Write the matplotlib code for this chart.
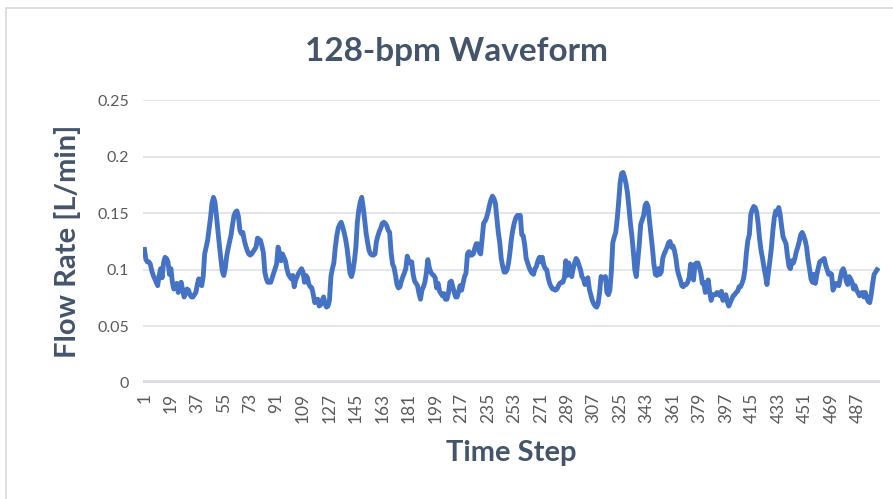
import matplotlib
matplotlib.use('Agg')
import matplotlib.pyplot as plt
import numpy as np
from matplotlib.patches import Rectangle

plotname = 'out'

# ------------- Data ------------- #
flow_rate = [
    0.118, 0.109, 0.107, 0.107, 0.105, 0.099, 0.095, 0.092, 0.089, 0.086,
    0.095, 0.101, 0.093, 0.106, 0.111, 0.110, 0.107, 0.096, 0.101, 0.089,
    0.083, 0.085, 0.088, 0.080, 0.084, 0.089, 0.082, 0.076, 0.079, 0.083,
    0.082, 0.078, 0.076, 0.076, 0.078, 0.080, 0.087, 0.092, 0.089, 0.086,
    0.094, 0.114, 0.120, 0.126, 0.136, 0.146, 0.159, 0.164, 0.160, 0.148,
    0.135, 0.122, 0.110, 0.099, 0.095, 0.101, 0.112, 0.119, 0.125, 0.131,
    0.140, 0.148, 0.151, 0.152, 0.147, 0.135, 0.132, 0.133, 0.126, 0.121,
    0.117, 0.114, 0.113, 0.114, 0.116, 0.118, 0.120, 0.128, 0.127, 0.126,
    0.121, 0.115, 0.098, 0.092, 0.089, 0.089, 0.089, 0.093, 0.097, 0.101,
    0.105, 0.120, 0.115, 0.108, 0.114, 0.111, 0.108, 0.101, 0.096, 0.094,
    0.092, 0.095, 0.085, 0.091, 0.094, 0.097, 0.099, 0.101, 0.098, 0.089,
    0.095, 0.093, 0.087, 0.085, 0.084, 0.078, 0.071, 0.073, 0.074, 0.068,
    0.069, 0.073, 0.076, 0.070, 0.067, 0.068, 0.073, 0.094, 0.101, 0.106,
    0.120, 0.130, 0.137, 0.140, 0.142, 0.138, 0.133, 0.127, 0.119, 0.108,
    0.097, 0.094, 0.099, 0.108, 0.120, 0.142, 0.153, 0.160, 0.164, 0.155,
    0.144, 0.132, 0.124, 0.117, 0.114, 0.113, 0.113, 0.114, 0.125, 0.130,
    0.134, 0.137, 0.141, 0.142, 0.141, 0.139, 0.135, 0.133, 0.115, 0.105,
    0.102, 0.095, 0.087, 0.084, 0.085, 0.090, 0.094, 0.097, 0.101, 0.112,
    0.108, 0.106, 0.107, 0.096, 0.090, 0.088, 0.086, 0.079, 0.074, 0.082,
    0.085, 0.089, 0.097, 0.109, 0.102, 0.098, 0.096, 0.095, 0.093, 0.084,
    0.088, 0.081, 0.079, 0.077, 0.079, 0.074, 0.074, 0.079, 0.089, 0.090,
    0.085, 0.080, 0.076, 0.076, 0.081, 0.086, 0.082, 0.088, 0.094, 0.097,
    0.114, 0.116, 0.113, 0.113, 0.114, 0.119, 0.123, 0.123, 0.116, 0.114,
    0.128, 0.141, 0.143, 0.146, 0.151, 0.157, 0.162, 0.165, 0.163, 0.159,
    0.146, 0.133, 0.124, 0.110, 0.103, 0.098, 0.098, 0.100, 0.106, 0.116,
    0.128, 0.136, 0.142, 0.146, 0.148, 0.148, 0.148, 0.131, 0.130, 0.122,
    0.110, 0.106, 0.102, 0.099, 0.097, 0.096, 0.101, 0.103, 0.108, 0.111,
    0.107, 0.111, 0.104, 0.101, 0.100, 0.093, 0.088, 0.085, 0.083, 0.083,
    0.082, 0.083, 0.086, 0.088, 0.089, 0.089, 0.093, 0.108, 0.095, 0.106,
    0.100, 0.094, 0.101, 0.106, 0.110, 0.108, 0.104, 0.100, 0.094, 0.092,
    0.087, 0.091, 0.093, 0.083, 0.078, 0.073, 0.070, 0.068, 0.067, 0.070,
    0.080, 0.094, 0.093, 0.093, 0.094, 0.080, 0.078, 0.082, 0.098, 0.124,
    0.129, 0.133, 0.145, 0.160, 0.177, 0.185, 0.186, 0.182, 0.176, 0.168,
    0.155, 0.141, 0.130, 0.116, 0.100, 0.094, 0.108, 0.122, 0.140, 0.144,
    0.148, 0.157, 0.159, 0.156, 0.143, 0.131, 0.119, 0.105, 0.096, 0.095,
    0.101, 0.096, 0.098, 0.110, 0.114, 0.117, 0.120, 0.124, 0.125, 0.120,
    0.121, 0.117, 0.110, 0.100, 0.095, 0.091, 0.086, 0.085, 0.087, 0.087,
    0.089, 0.093, 0.105, 0.098, 0.091, 0.105, 0.106, 0.106, 0.102, 0.097,
    0.088, 0.089, 0.080, 0.085, 0.091, 0.080, 0.073, 0.078, 0.078, 0.078,
    0.080, 0.079, 0.077, 0.081, 0.073, 0.076, 0.078, 0.072, 0.068, 0.071,
    0.074, 0.077, 0.078, 0.080, 0.081, 0.085, 0.085, 0.088, 0.092, 0.100,
    0.115, 0.126, 0.131, 0.149, 0.153, 0.156, 0.155, 0.151, 0.141, 0.127,
    0.117, 0.110, 0.102, 0.095, 0.087, 0.098, 0.108, 0.119, 0.134, 0.146,
    0.152, 0.149, 0.155, 0.149, 0.138, 0.129, 0.126, 0.123, 0.112, 0.103,
    0.101, 0.108, 0.106, 0.110, 0.116, 0.120, 0.125, 0.131, 0.133, 0.130,
    0.126, 0.120, 0.109, 0.101, 0.092, 0.089, 0.096, 0.088, 0.096, 0.102,
    0.107, 0.108, 0.109, 0.110, 0.104, 0.100, 0.096, 0.097, 0.096, 0.082,
    0.085, 0.088, 0.087, 0.086, 0.093, 0.099, 0.101, 0.097, 0.090, 0.087,
    0.094, 0.092, 0.089, 0.083, 0.086, 0.082, 0.080, 0.077, 0.079, 0.080,
    0.076, 0.080, 0.075, 0.072, 0.071, 0.078, 0.088, 0.096, 0.098, 0.100,
]
time_step = np.arange(1, len(flow_rate) + 1)
x_ticks = np.arange(1, len(flow_rate), 18)
y_ticks = [0, 0.05, 0.1, 0.15, 0.2, 0.25]
y_tick_labels = ['0', '0.05', '0.1', '0.15', '0.2', '0.25']

# ------------- Plot Setup ------------- #
plt.rcParams['font.family'] = ['Lato', 'DejaVu Sans']
fig = plt.figure(figsize=(8.93, 4.99), dpi=100)
# chart frame (only top and left edges fall inside the canvas)
fig.patches.append(Rectangle((6 / 893, -0.05), 1.05, 1.05 - 8 / 499, transform=fig.transFigure,
                             fill=False, edgecolor='#D9D9D9', linewidth=1.2))
ax = fig.add_axes([143 / 893, 1 - 383 / 499, (880 - 143) / 893, (383 - 100) / 499])

title_color = '#44546A'
tick_color = '#595959'

ax.plot(time_step, flow_rate, color='#4472C4', linewidth=3.5, solid_joinstyle='round', zorder=3)

ax.set_xlim(0, 502)
ax.set_ylim(0, 0.25)
ax.set_yticks(y_ticks)
ax.set_yticklabels(y_tick_labels)
ax.set_xticks(x_ticks)
ax.set_xticklabels([str(t) for t in x_ticks], rotation=90)
ax.tick_params(axis='both', length=0, labelcolor=tick_color)
ax.tick_params(axis='y', pad=10, labelsize=11.5)
ax.tick_params(axis='x', pad=7, labelsize=12.5)

ax.grid(axis='y', color='#E1E4E8', linewidth=1.3)
ax.axhline(0, color='#D9DDE3', linewidth=5, zorder=2)
for s in ax.spines.values():
    s.set_visible(False)

fig.text((305 + 608) / 2 / 893, 1 - 52 / 499, '128-bpm Waveform', ha='center', va='center',
         fontsize=24, fontweight='bold', color=title_color)
ax.set_xlabel('Time Step', fontsize=21, fontweight='bold', color=title_color, labelpad=12)
ax.set_ylabel('Flow Rate [L/min]', fontsize=21, fontweight='bold', color=title_color, labelpad=12)

# ------------- Save plot ------------- #
fig.savefig(plotname + '.png', dpi=100)
